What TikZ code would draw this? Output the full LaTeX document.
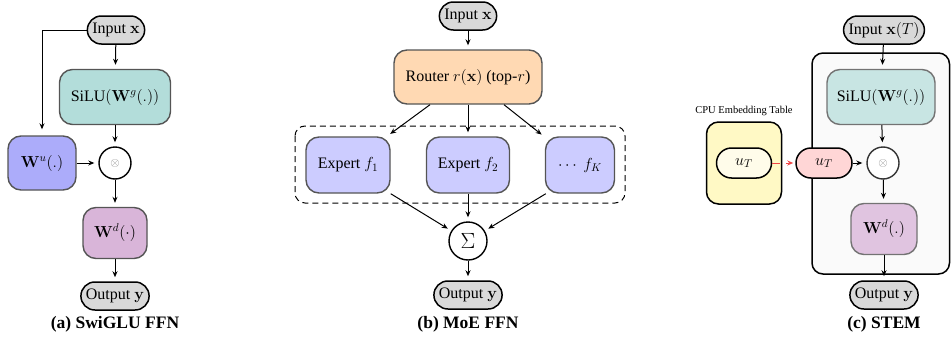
\RequirePackage{fix-cm}
\documentclass[tikz,border=0pt]{standalone}
\usepackage[no-math]{fontspec}
\setmainfont{Liberation Serif}[BoldFont={Liberation Serif Bold},ItalicFont={Liberation Serif Italic}]
\usetikzlibrary{arrows.meta}
\definecolor{pillgray}{RGB}{217,217,217}
\definecolor{boxborder}{RGB}{85,85,85}
\definecolor{tealA}{RGB}{179,221,218}
\definecolor{tealC}{RGB}{200,229,227}
\definecolor{blueU}{RGB}{172,172,250}
\definecolor{purpA}{RGB}{217,181,217}
\definecolor{purpC}{RGB}{224,196,224}
\definecolor{orangeR}{RGB}{255,217,179}
\definecolor{expertB}{RGB}{204,204,255}
\definecolor{yellowT}{RGB}{255,249,197}
\definecolor{creamT}{RGB}{255,252,234}
\definecolor{pinkU}{RGB}{255,214,214}
\definecolor{panelbg}{RGB}{250,250,250}
\definecolor{redarrow}{RGB}{240,70,70}
\begin{document}
\begin{tikzpicture}[x=1pt,y=-1pt,font=\fontsize{16}{19}\selectfont,
  pill/.style={draw=black,line width=1.5pt,fill=pillgray,rounded corners=14pt,minimum height=28pt,inner xsep=5pt,inner ysep=0pt},
  fbox/.style={draw=boxborder,line width=1.4pt,rounded corners=13pt,inner sep=0pt,align=center},
  circ/.style={circle,draw=black,line width=1.4pt,fill=white,minimum size=32pt,inner sep=0pt},
  arr/.style={-{Stealth[length=6pt,width=5pt]},line width=1pt,shorten >=4pt},
  captext/.style={font=\fontsize{17.5}{20}\selectfont\bfseries}]
\useasboundingbox (0,0) rectangle (951,343);
\newcommand{\otsym}{{\color{gray}\fontsize{12}{12}\selectfont$\otimes$}}
% ---------- (a) ----------
\node[pill] (inA) at (116,30) {Input $\mathbf{x}$};
\node[fbox,fill=tealA,minimum width=111pt,minimum height=55pt] (silA) at (115,97) {SiLU$(\mathbf{W}^g(.))$};
\node[fbox,fill=blueU,minimum width=68pt,minimum height=54pt] (wuA) at (42,163) {$\mathbf{W}^u(.)$};
\node[circ] (otA) at (115,163) {\otsym};
\node[fbox,fill=purpA,minimum width=64pt,minimum height=51pt] (wdA) at (115,233) {$\mathbf{W}^d(\cdot)$};
\node[pill] (outA) at (115,296) {Output $\mathbf{y}$};
\node[captext] (capA) at (115,324) {(a) SwiGLU FFN};
\draw[arr] (inA) -- (silA);
\draw[arr] (silA) -- (otA);
\draw[arr] (wuA) -- (otA);
\draw[arr] (otA) -- (wdA);
\draw[arr] (wdA) -- (outA);
\draw[arr,shorten >=6pt] (inA.west) -| (wuA.north);
% ---------- (b) ----------
\node[pill] (inB) at (468,16) {Input $\mathbf{x}$};
\node[fbox,fill=orangeR,minimum width=148pt,minimum height=54pt] (router) at (468,77) {Router $r(\mathbf{x})$ (top-$r$)};
\node[fbox,fill=expertB,minimum width=84pt,minimum height=56pt] (e1) at (348,165) {Expert $f_1$};
\node[fbox,fill=expertB,minimum width=83pt,minimum height=56pt] (e2) at (468,165) {Expert $f_2$};
\node[fbox,fill=expertB,minimum width=69pt,minimum height=56pt] (eK) at (580,165) {$\cdots\ f_K$};
\draw[line width=1pt,dash pattern=on 6pt off 4pt,rounded corners=10pt] (295,126) rectangle (625,203);
\node[circ,minimum size=38pt] (sig) at (468,241) {\fontsize{22}{22}\selectfont$\Sigma$};
\node[pill] (outB) at (468,295) {Output $\mathbf{y}$};
\node[captext] (capB) at (468,324) {(b) MoE FFN};
\draw[arr] (inB) -- (router);
\draw[arr] ([xshift=-38pt]router.south) -- (e1);
\draw[arr] (router) -- (e2);
\draw[arr] ([xshift=36pt]router.south) -- (eK);
\draw[arr] (e1.south east) -- (sig);
\draw[arr] (e2) -- (sig);
\draw[arr] ([xshift=1pt]eK.south west) -- (sig);
\draw[arr] (sig) -- (outB);
% ---------- (c) ----------
\draw[line width=1.5pt,fill=panelbg,rounded corners=11pt] (812,53) rectangle (949.5,274);
\node[pill] (inC) at (884,30) {Input $\mathbf{x}(T)$};
\node[fbox,draw=black!55,fill=tealC,minimum width=108pt,minimum height=55pt] (silC) at (881,97) {SiLU$(\mathbf{W}^g(.))$};
\node[circ,draw=black!80] (otC) at (883,163) {\otsym};
\node[fbox,draw=black!55,fill=purpC,minimum width=66pt,minimum height=51pt] (wdC) at (884,229) {$\mathbf{W}^d(.)$};
\node[pill] (outC) at (884,295) {Output $\mathbf{y}$};
\node[captext] (capC) at (884,324) {(c) STEM};
\node[draw=black,line width=1.5pt,fill=yellowT,rounded corners=12pt,minimum width=75pt,minimum height=82pt] (tab) at (744,163) {};
\node[font=\fontsize{10.5}{12}\selectfont] (tablab) at (744,111) {CPU Embedding Table};
\node[pill,fill=creamT,minimum width=55pt,minimum height=30pt,rounded corners=15pt] (uin) at (744,163) {$u_T$};
\node[pill,fill=pinkU,minimum width=56pt,minimum height=30pt,rounded corners=15pt] (uT) at (824,163) {$u_T$};
\draw[arr] (inC) -- (silC);
\draw[arr] (silC) -- (otC);
\draw[arr] (uT) -- (otC);
\draw[arr] (otC) -- (wdC);
\draw[arr] (wdC) -- (outC);
\draw[-{Stealth[length=6pt,width=5pt]},line width=1pt,draw=redarrow,dash pattern=on 8pt off 6pt,shorten >=2pt] (uin) -- (uT);
\end{tikzpicture}
\end{document}
